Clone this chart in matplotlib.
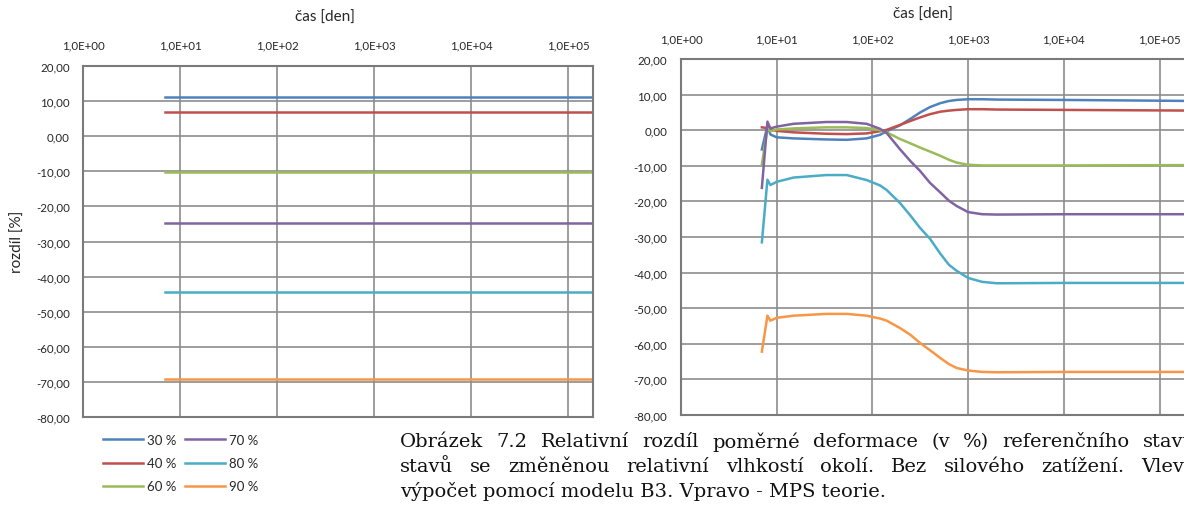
import matplotlib
matplotlib.use('Agg')
import matplotlib.pyplot as plt
from matplotlib.lines import Line2D

# rozmer obrazku v pixelech
W, H = 1184, 506

plt.rcParams['font.family'] = ['Lato', 'DejaVu Sans']

# --- data ---
labels = ['30 %', '40 %', '60 %', '70 %', '80 %', '90 %']
colors = ['#4F81BD', '#C0504D', '#9BBB59', '#8064A2', '#4BACC6', '#F79646']

# vlevo - model B3 (konstantni rozdil)
t_b3 = [7, 250000]
b3_values = [11.2, 7.0, -10.3, -24.8, -44.3, -69.3]

# vpravo - MPS teorie
t_mps = [7, 8, 8.6, 10, 15, 33, 54, 87, 120, 141, 195, 250, 316, 400, 513,
         630, 760, 1000, 1400, 2000, 10000, 250000]
mps_30 = [-5.4, 1.2, -1.2, -2.0, -2.3, -2.6, -2.7, -2.3, -1.3, -0.3, 1.4, 3.2,
          5.0, 6.5, 7.6, 8.2, 8.5, 8.7, 8.7, 8.6, 8.5, 8.2]
mps_40 = [0.8, 0.6, 0.2, -0.2, -0.6, -1.0, -1.1, -0.9, -0.3, 0.1, 1.5, 2.6,
          3.6, 4.5, 5.2, 5.5, 5.7, 5.9, 5.9, 5.8, 5.7, 5.5]
mps_60 = [-9.6, 0.5, -0.3, 0.2, 0.5, 0.8, 0.8, 0.6, 0.0, -0.6, -2.5, -3.7,
          -4.9, -6.0, -7.2, -8.3, -9.1, -9.7, -9.9, -9.9, -9.9, -9.8]
mps_70 = [-16.2, 2.4, 0.5, 1.0, 1.8, 2.3, 2.3, 1.8, 0.4, -0.8, -5.4, -8.7,
          -11.5, -14.8, -17.5, -19.8, -21.3, -23.0, -23.6, -23.7, -23.6, -23.6]
mps_80 = [-31.5, -13.9, -15.4, -14.5, -13.3, -12.6, -12.6, -14.0, -15.5, -16.8,
          -20.5, -24.0, -27.5, -30.5, -34.7, -37.8, -39.5, -41.5, -42.6, -43.0,
          -42.9, -42.9]
mps_90 = [-62.2, -52.1, -53.5, -52.7, -52.1, -51.6, -51.6, -52.1, -52.9, -53.5,
          -55.6, -57.5, -59.8, -61.8, -64.0, -65.7, -66.8, -67.5, -67.9, -68.0,
          -67.9, -67.9]
mps_values = [mps_30, mps_40, mps_60, mps_70, mps_80, mps_90]

x_ticks = [1, 10, 100, 1000, 10000, 100000]
x_ticklabels = ['1,0E+00', '1,0E+01', '1,0E+02', '1,0E+03', '1,0E+04', '1,0E+05']
y_ticks = list(range(-80, 21, 10))
y_ticklabels = [f'{v:.2f}'.replace('.', ',') for v in y_ticks]

caption = [
    'Obrázek 7.2 Relativní rozdíl poměrné deformace (v %) referenčního stavu',
    'stavů se změněnou relativní vlhkostí okolí. Bez silového zatížení. Vlevo',
    'výpočet pomocí modelu B3. Vpravo - MPS teorie.',
]


def px_box(x0, y0, x1, y1):
    # pixely (od horniho okraje) -> souradnice obrazku
    return [x0 / W, 1 - y1 / H, (x1 - x0) / W, (y1 - y0) / H]


def style_axes(ax, xmax, xpad, ypad):
    ax.set_xscale('log')
    ax.set_xlim(1, xmax)
    ax.set_ylim(-80, 20)
    ax.xaxis.tick_top()
    ax.set_xticks(x_ticks)
    ax.set_xticklabels(x_ticklabels)
    ax.xaxis.set_minor_locator(plt.NullLocator())
    ax.set_yticks(y_ticks)
    ax.set_yticklabels(y_ticklabels)
    ax.grid(True, color='#8c8c8c', lw=1.2)
    ax.set_axisbelow(True)
    ax.tick_params(axis='x', length=0, labelsize=8.3, colors='#262626', pad=xpad)
    ax.tick_params(axis='y', length=0, labelsize=8.3, colors='#262626', pad=ypad)
    for s in ax.spines.values():
        s.set_color('#7a7a7a')
        s.set_linewidth(1.5)


fig = plt.figure(figsize=(W / 100, H / 100), dpi=100)

# levy graf
ax1 = fig.add_axes(px_box(83, 67, 593, 418))
style_axes(ax1, 10 ** (510 / 97), 11, 9.5)
for val, c in zip(b3_values, colors):
    ax1.plot(t_b3, [val, val], color=c, lw=1.8)

# pravy graf (oriznuty pravym okrajem)
ax2 = fig.add_axes(px_box(681, 60, 1200, 416))
style_axes(ax2, 10 ** (519 / 95.7), 10.5, 10)
for vals, c in zip(mps_values, colors):
    ax2.plot(t_mps, vals, color=c, lw=1.8)

fig.text(325 / W, 1 - 18 / H, 'čas [den]', ha='center', va='center', fontsize=11, color='#262626')
fig.text(923 / W, 1 - 15 / H, 'čas [den]', ha='center', va='center', fontsize=11, color='#262626')
fig.text(18 / W, 1 - 242 / H, 'rozdíl [%]', ha='center', va='center', rotation=90,
         fontsize=11, color='#262626')

handles = [Line2D([], [], color=c, lw=1.8) for c in colors]
fig.legend(handles, labels, ncol=2, loc='upper left',
           bbox_to_anchor=(103 / W, 1 - 435 / H), frameon=False, fontsize=9.5,
           handlelength=3.0, handletextpad=0.3, columnspacing=0.7,
           labelspacing=0.85, borderpad=0, borderaxespad=0, labelcolor='#262626')

# popisek - prvni dva radky do bloku
renderer = fig.canvas.get_renderer()
cap_font = dict(family='DejaVu Serif', fontsize=14, color='#111111', va='center')
x_left, x_right = 400, 1196
for i, line in enumerate(caption):
    y = 1 - (442 + 25 * i) / H
    if i == len(caption) - 1:
        fig.text(x_left / W, y, line, ha='left', **cap_font)
        continue
    words = line.split(' ')
    texts = [fig.text(0, y, w, ha='left', **cap_font) for w in words]
    widths = [t.get_window_extent(renderer).width for t in texts]
    gap = (x_right - x_left - sum(widths)) / (len(words) - 1)
    x = x_left
    for t, w in zip(texts, widths):
        t.set_x(x / W)
        x += w + gap

fig.savefig('out.png', dpi=100)
